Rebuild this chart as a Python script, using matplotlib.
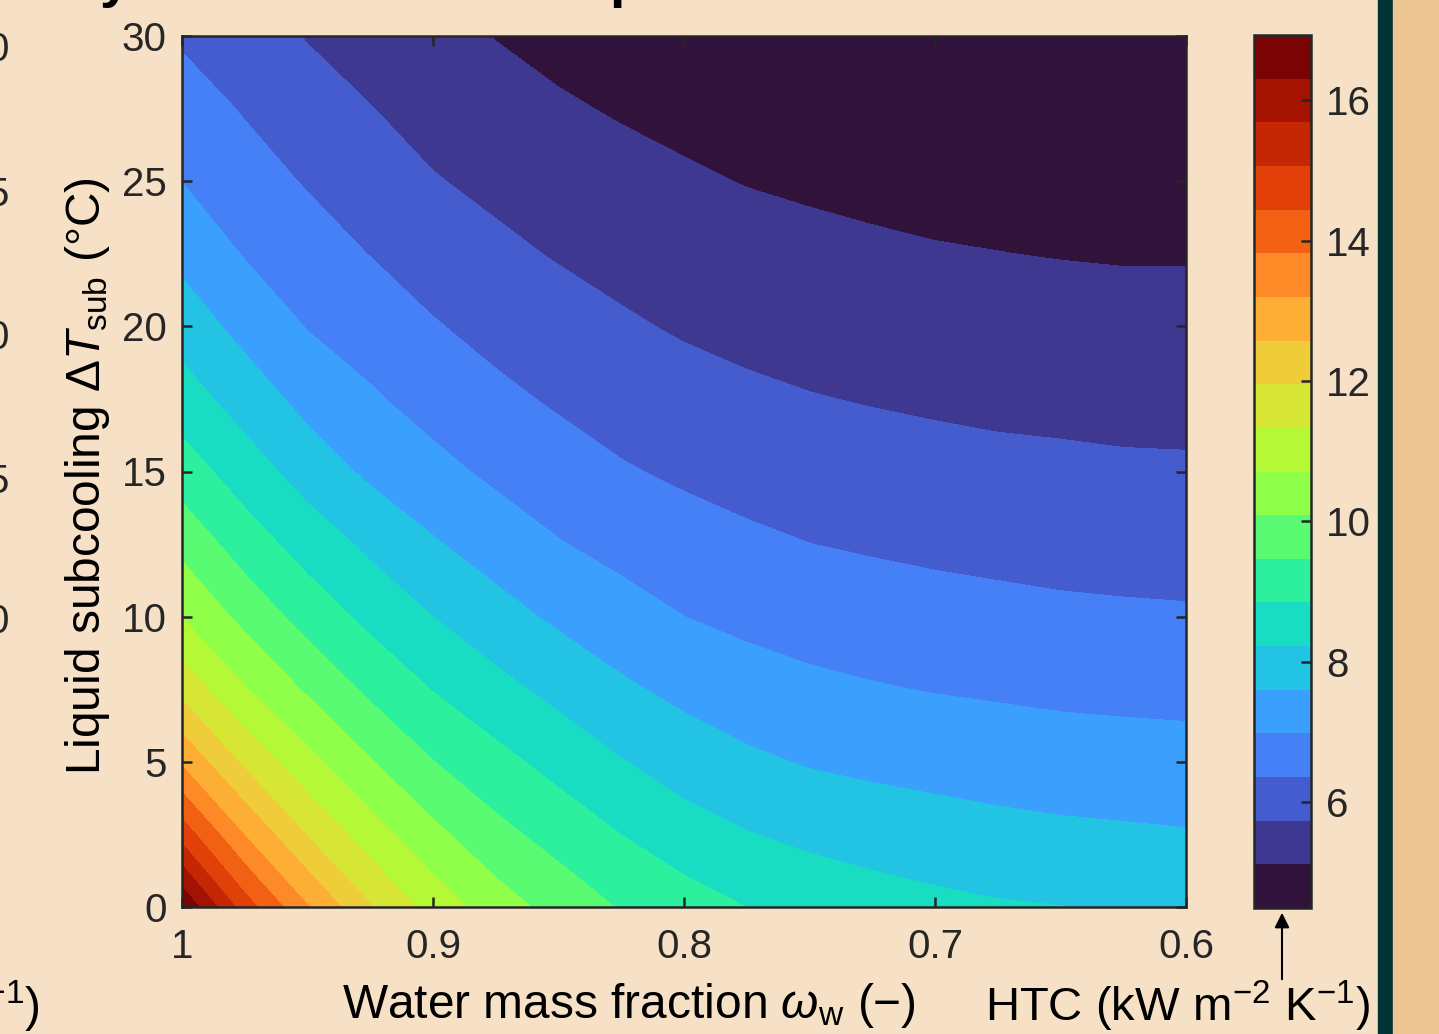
import numpy as np
import matplotlib
matplotlib.use("Agg")
import matplotlib.pyplot as plt
from matplotlib.colors import ListedColormap
from matplotlib.patches import Rectangle

plt.rcParams['font.family'] = ['Liberation Sans', 'DejaVu Sans']
plt.rcParams['mathtext.fontset'] = 'custom'
plt.rcParams['mathtext.rm'] = 'Liberation Sans'
plt.rcParams['mathtext.it'] = 'Liberation Sans:italic'
plt.rcParams['mathtext.bf'] = 'Liberation Sans:bold'

# 1. DONNEES
omega_w = [1.0, 0.975, 0.95, 0.925, 0.9, 0.875, 0.85, 0.825, 0.8,
           0.775, 0.75, 0.725, 0.7, 0.675, 0.65, 0.625, 0.6]
dT_sub = [0, 2.5, 5, 7.5, 10, 12.5, 15, 17.5, 20, 22.5, 25, 27.5, 30]

# HTC (kW m-2 K-1), une liste par ligne de sous-refroidissement
htc_dT0 = [16.90, 14.75, 13.24, 12.00, 11.09, 10.39, 9.85, 9.42, 9.12,
           8.84, 8.66, 8.50, 8.37, 8.28, 8.23, 8.17, 8.12]
htc_dT2p5 = [14.80, 13.17, 11.92, 11.00, 10.25, 9.65, 9.23, 8.84, 8.49,
             8.25, 8.07, 7.95, 7.86, 7.78, 7.72, 7.68, 7.64]
htc_dT5 = [13.10, 11.83, 10.90, 10.13, 9.48, 9.03, 8.63, 8.25, 7.94,
           7.71, 7.55, 7.46, 7.39, 7.32, 7.26, 7.23, 7.20]
htc_dT7p5 = [11.75, 10.75, 10.00, 9.33, 8.82, 8.41, 8.04, 7.70, 7.44,
             7.25, 7.11, 7.02, 6.95, 6.90, 6.85, 6.82, 6.80]
htc_dT10 = [10.69, 9.91, 9.21, 8.68, 8.22, 7.83, 7.49, 7.22, 6.98,
            6.83, 6.72, 6.65, 6.58, 6.52, 6.47, 6.44, 6.42]
htc_dT12p5 = [9.90, 9.16, 8.58, 8.09, 7.66, 7.31, 7.01, 6.79, 6.61,
              6.47, 6.36, 6.29, 6.23, 6.19, 6.15, 6.13, 6.11]
htc_dT15 = [9.15, 8.53, 7.95, 7.48, 7.15, 6.86, 6.62, 6.41, 6.26,
            6.14, 6.06, 5.99, 5.93, 5.88, 5.85, 5.82, 5.81]
htc_dT17p5 = [8.51, 7.94, 7.40, 7.05, 6.75, 6.49, 6.28, 6.10, 5.96,
              5.84, 5.76, 5.70, 5.65, 5.61, 5.59, 5.56, 5.55]
htc_dT20 = [7.94, 7.40, 6.95, 6.70, 6.40, 6.17, 5.98, 5.81, 5.67,
            5.58, 5.50, 5.45, 5.40, 5.37, 5.34, 5.31, 5.30]
htc_dT22p5 = [7.43, 6.94, 6.62, 6.34, 6.08, 5.86, 5.69, 5.55, 5.43,
              5.34, 5.26, 5.20, 5.15, 5.12, 5.09, 5.07, 5.07]
htc_dT25 = [6.97, 6.60, 6.31, 6.04, 5.77, 5.60, 5.44, 5.30, 5.19,
            5.09, 5.03, 4.98, 4.94, 4.92, 4.90, 4.88, 4.88]
htc_dT27p5 = [6.62, 6.31, 6.02, 5.75, 5.52, 5.34, 5.18, 5.06, 4.96,
              4.88, 4.81, 4.77, 4.73, 4.71, 4.70, 4.69, 4.68]
htc_dT30 = [6.28, 6.01, 5.70, 5.48, 5.28, 5.095, 4.95, 4.83, 4.73,
            4.66, 4.60, 4.56, 4.53, 4.51, 4.50, 4.50, 4.50]

htc_min, htc_max = 4.49, 16.93
n_bands = 20
x_ticks = [1.0, 0.9, 0.8, 0.7, 0.6]
x_tick_labels = ['1', '0.9', '0.8', '0.7', '0.6']
y_ticks = [0, 5, 10, 15, 20, 25, 30]
cb_ticks = [6, 8, 10, 12, 14, 16]

htc = np.array([htc_dT0, htc_dT2p5, htc_dT5, htc_dT7p5, htc_dT10, htc_dT12p5,
                htc_dT15, htc_dT17p5, htc_dT20, htc_dT22p5, htc_dT25,
                htc_dT27p5, htc_dT30])
levels = np.linspace(htc_min, htc_max, n_bands + 1)
cmap = ListedColormap(plt.get_cmap('turbo')(np.linspace(0, 1, n_bands)))

# 2. FIGURE
W, H = 1439, 1034
fig = plt.figure(figsize=(W / 100, H / 100), dpi=100)
fig.patch.set_facecolor('#f6e1c6')

def px(x0, y0, x1, y1):
    # rectangle en pixels (origine haut-gauche) -> coords figure
    return [x0 / W, 1 - y1 / H, (x1 - x0) / W, (y1 - y0) / H]

ax = fig.add_axes(px(182, 36, 1186, 907))
cf = ax.contourf(omega_w, dT_sub, htc, levels=levels, cmap=cmap,
                 vmin=htc_min, vmax=htc_max)
ax.set_xlim(1.0, 0.6)
ax.set_ylim(0, 30)
ax.set_xticks(x_ticks)
ax.set_xticklabels(x_tick_labels)
ax.set_yticks(y_ticks)

dark = '#262626'
for s in ax.spines.values():
    s.set_color(dark)
    s.set_linewidth(1.8)
ax.tick_params(direction='in', length=7, width=1.8, color=dark,
               labelcolor=dark, labelsize=29, top=True, right=True)
ax.tick_params(axis='x', pad=15)
ax.tick_params(axis='y', pad=11)

# barre de couleur
cax = fig.add_axes(px(1254, 35, 1311, 908))
cb = fig.colorbar(cf, cax=cax, ticks=cb_ticks)
cb.outline.set_color(dark)
cb.outline.set_linewidth(1.8)
cax.tick_params(direction='in', length=7, width=1.8, color=dark,
                labelcolor=dark, labelsize=29, pad=11)

# titres des axes
lab_fs = 34.5
fig.text(88 / W, 1 - 476 / H, r'Liquid subcooling $\Delta T_{\mathrm{sub}}$ (°C)',
         rotation=90, ha='center', va='center', fontsize=lab_fs, color='black')
fig.text(629 / W, 1 - 1006 / H, r'Water mass fraction $\omega_{\mathrm{w}}$ (−)',
         ha='center', va='center', fontsize=lab_fs, color='black')
fig.text(1177 / W, 1 - 1006 / H, r'HTC (kW m$^{-2}$ K$^{-1}$)',
         ha='center', va='center', fontsize=34, color='black')
ax.annotate('', xy=(1282, H - 910), xytext=(1282, H - 982),
            xycoords='figure pixels', textcoords='figure pixels',
            arrowprops=dict(arrowstyle='-|>', color='black', lw=1.5,
                            mutation_scale=22))

# bord de la diapositive : titre coupe en haut, panneau voisin a gauche
fig.text(100 / W, 1 + 4 / H, 'y', fontsize=40, fontweight='bold',
         ha='left', va='baseline', color='black')
fig.text(609 / W, 1 + 4 / H, 'p', fontsize=40, fontweight='bold',
         ha='left', va='baseline', color='black')
for yy, t in zip([50, 195, 338, 482, 622], ['0', '5', '0', '5', '0']):
    fig.text(9 / W, 1 - yy / H, t, ha='right', va='center', fontsize=29, color=dark)
fig.text(40 / W, 1 - 1006 / H, r'$^{-1}$)', ha='right', va='center', fontsize=lab_fs)

fig.add_artist(Rectangle((1378 / W, 0), 15 / W, 1, transform=fig.transFigure,
                         color='#003434', zorder=5))
fig.add_artist(Rectangle((1393 / W, 0), 46 / W, 1, transform=fig.transFigure,
                         color='#edc592', zorder=5))

fig.savefig('out.png', dpi=100, facecolor=fig.get_facecolor())
